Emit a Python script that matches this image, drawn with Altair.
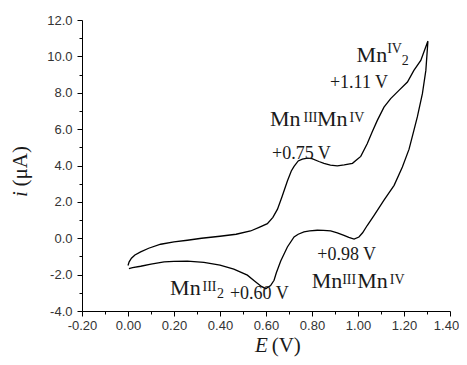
import altair as alt
import pandas as pd

# forward (oxidation) scan
fwd_E = [0.000, 0.005, 0.015, 0.030, 0.055, 0.090, 0.142, 0.200, 0.258, 0.320,
         0.400, 0.470, 0.533, 0.570, 0.606, 0.630, 0.650, 0.670, 0.693, 0.710,
         0.722, 0.740, 0.758, 0.780, 0.800, 0.830, 0.852, 0.880, 0.910, 0.940,
         0.976, 0.997, 1.012, 1.040, 1.062, 1.084, 1.113, 1.142, 1.178, 1.215,
         1.243, 1.273, 1.304]
fwd_i = [-1.50, -1.30, -1.10, -0.92, -0.75, -0.55, -0.33, -0.20, -0.11, 0.00,
         0.11, 0.22, 0.40, 0.60, 0.80, 1.15, 1.60, 2.30, 3.15, 3.70,
         3.95, 4.25, 4.35, 4.40, 4.38, 4.22, 4.12, 4.02, 3.98, 4.03,
         4.12, 4.35, 4.50, 5.20, 5.85, 6.48, 7.21, 7.68, 8.13, 8.59,
         9.23, 9.78, 10.84]
# reverse (reduction) scan
rev_E = [1.295, 1.280, 1.258, 1.243, 1.222, 1.193, 1.157, 1.113, 1.070, 1.040,
         1.020, 1.004, 0.983, 0.960, 0.939, 0.910, 0.881, 0.850, 0.823, 0.790,
         0.765, 0.740, 0.722, 0.693, 0.664, 0.645, 0.635, 0.620, 0.599, 0.580,
         0.550, 0.519, 0.460, 0.400, 0.330, 0.258, 0.200, 0.157, 0.100, 0.055,
         0.020, 0.004]
rev_i = [9.23, 7.95, 6.67, 5.93, 4.90, 3.92, 2.91, 2.09, 1.26, 0.70,
         0.30, 0.07, -0.05, 0.05, 0.16, 0.30, 0.40, 0.43, 0.44, 0.40,
         0.35, 0.22, 0.07, -0.48, -1.25, -1.90, -2.31, -2.60, -2.77, -2.65,
         -2.35, -2.03, -1.70, -1.48, -1.33, -1.26, -1.27, -1.30, -1.42, -1.54,
         -1.62, -1.67]

ann_text = ["Mn", "IV", "2", "+1.11 V",
            "Mn", "III", "Mn", "IV", "+0.75 V",
            "+0.98 V", "Mn", "III", "Mn", "IV",
            "Mn", "III", "2", "+0.60 V"]
ann_E = [0.994, 1.127, 1.190, 0.878,
         0.617, 0.763, 0.822, 0.963, 0.626,
         0.823, 0.799, 0.931, 0.997, 1.138,
         0.183, 0.324, 0.387, 0.443]
ann_i = [9.71, 10.17, 9.53, 8.245,
         6.19, 6.41, 6.19, 6.41, 4.36,
         -1.195, -2.75, -2.53, -2.75, -2.53,
         -3.12, -2.91, -3.28, -3.36]
ann_size = [22, 14, 14, 18,
            22, 14, 22, 14, 18,
            18, 22, 14, 22, 14,
            22, 14, 14, 18]

x_ticks = [round(-0.2 + 0.1 * k, 1) for k in range(17)]
y_ticks = list(range(-4, 13))

E_all = fwd_E + rev_E
i_all = fwd_i + rev_i
cv = pd.DataFrame({"E": E_all, "i": i_all, "k": list(range(len(E_all)))})
ann = pd.DataFrame({"t": ann_text, "E": ann_E, "i": ann_i, "s": ann_size})

xscale = alt.Scale(domain=[-0.2, 1.4], nice=False, zero=False)
yscale = alt.Scale(domain=[-4, 12], nice=False, zero=False)

xmajor = "abs(round(datum.value*10)) % 2 == 0"
ymajor = "abs(round(datum.value)) % 2 == 0"

common = dict(grid=False, title=None, domainColor="black", tickColor="black",
              labelColor="#333333", labelFont="Liberation Sans", labelFontSize=13,
              labelOverlap=False, labelFlush=False)

xaxis = alt.Axis(
    values=x_ticks,
    labelExpr="(" + xmajor + ") ? (datum.value < 0 ? '-' + format(-datum.value, '.2f') : format(datum.value, '.2f')) : ''",
    tickSize={"condition": {"test": xmajor, "value": 5}, "value": 3},
    labelOffset={"condition": {"test": "datum.value > 1.35", "value": -4}, "value": 0},
    labelPadding=3,
    **common,
)
yaxis = alt.Axis(
    values=y_ticks,
    labelExpr="(" + ymajor + ") ? (datum.value < 0 ? '-' + format(-datum.value, '.1f') : format(datum.value, '.1f')) : ''",
    tickSize={"condition": {"test": ymajor, "value": 5}, "value": 3},
    labelPadding=5,
    **common,
)

line = alt.Chart(cv).mark_line(color="black", strokeWidth=1.3).encode(
    x=alt.X("E:Q", scale=xscale, axis=xaxis),
    y=alt.Y("i:Q", scale=yscale, axis=yaxis),
    order="k:Q",
)

labels = alt.Chart(ann).mark_text(
    font="Liberation Serif", align="left", baseline="alphabetic", color="#1a1a1a"
).encode(
    x=alt.X("E:Q", scale=xscale, axis=xaxis),
    y=alt.Y("i:Q", scale=yscale, axis=yaxis),
    text="t:N",
    size=alt.Size("s:Q", scale=None, legend=None),
)

one = pd.DataFrame({"a": [0]})


def title_piece(txt, px, py, italic, angle=0):
    kw = dict(text=txt, font="Liberation Serif", fontSize=21, align="left",
              baseline="alphabetic", color="#1a1a1a")
    if italic:
        kw["fontStyle"] = "italic"
    if angle:
        kw["angle"] = angle
    return alt.Chart(one).mark_text(**kw).encode(x=alt.value(px), y=alt.value(py))


t1 = title_piece("E", 173, 331.5, True)
t2 = title_piece("(V)", 189.7, 331.5, False)
t3 = title_piece("i", -55.5, 177, True, 270)
t4 = title_piece("(μA)", -55.5, 166.5, False, 270)

chart = alt.layer(line, labels, t1, t2, t3, t4).properties(
    width=368, height=291,
    autosize=alt.AutoSizeParams(type="none"),
    padding={"left": 74, "top": 12, "right": 9, "bottom": 46},
).configure_view(stroke=None)

chart.save("out.html", embed_options={"renderer": "svg", "actions": False})
